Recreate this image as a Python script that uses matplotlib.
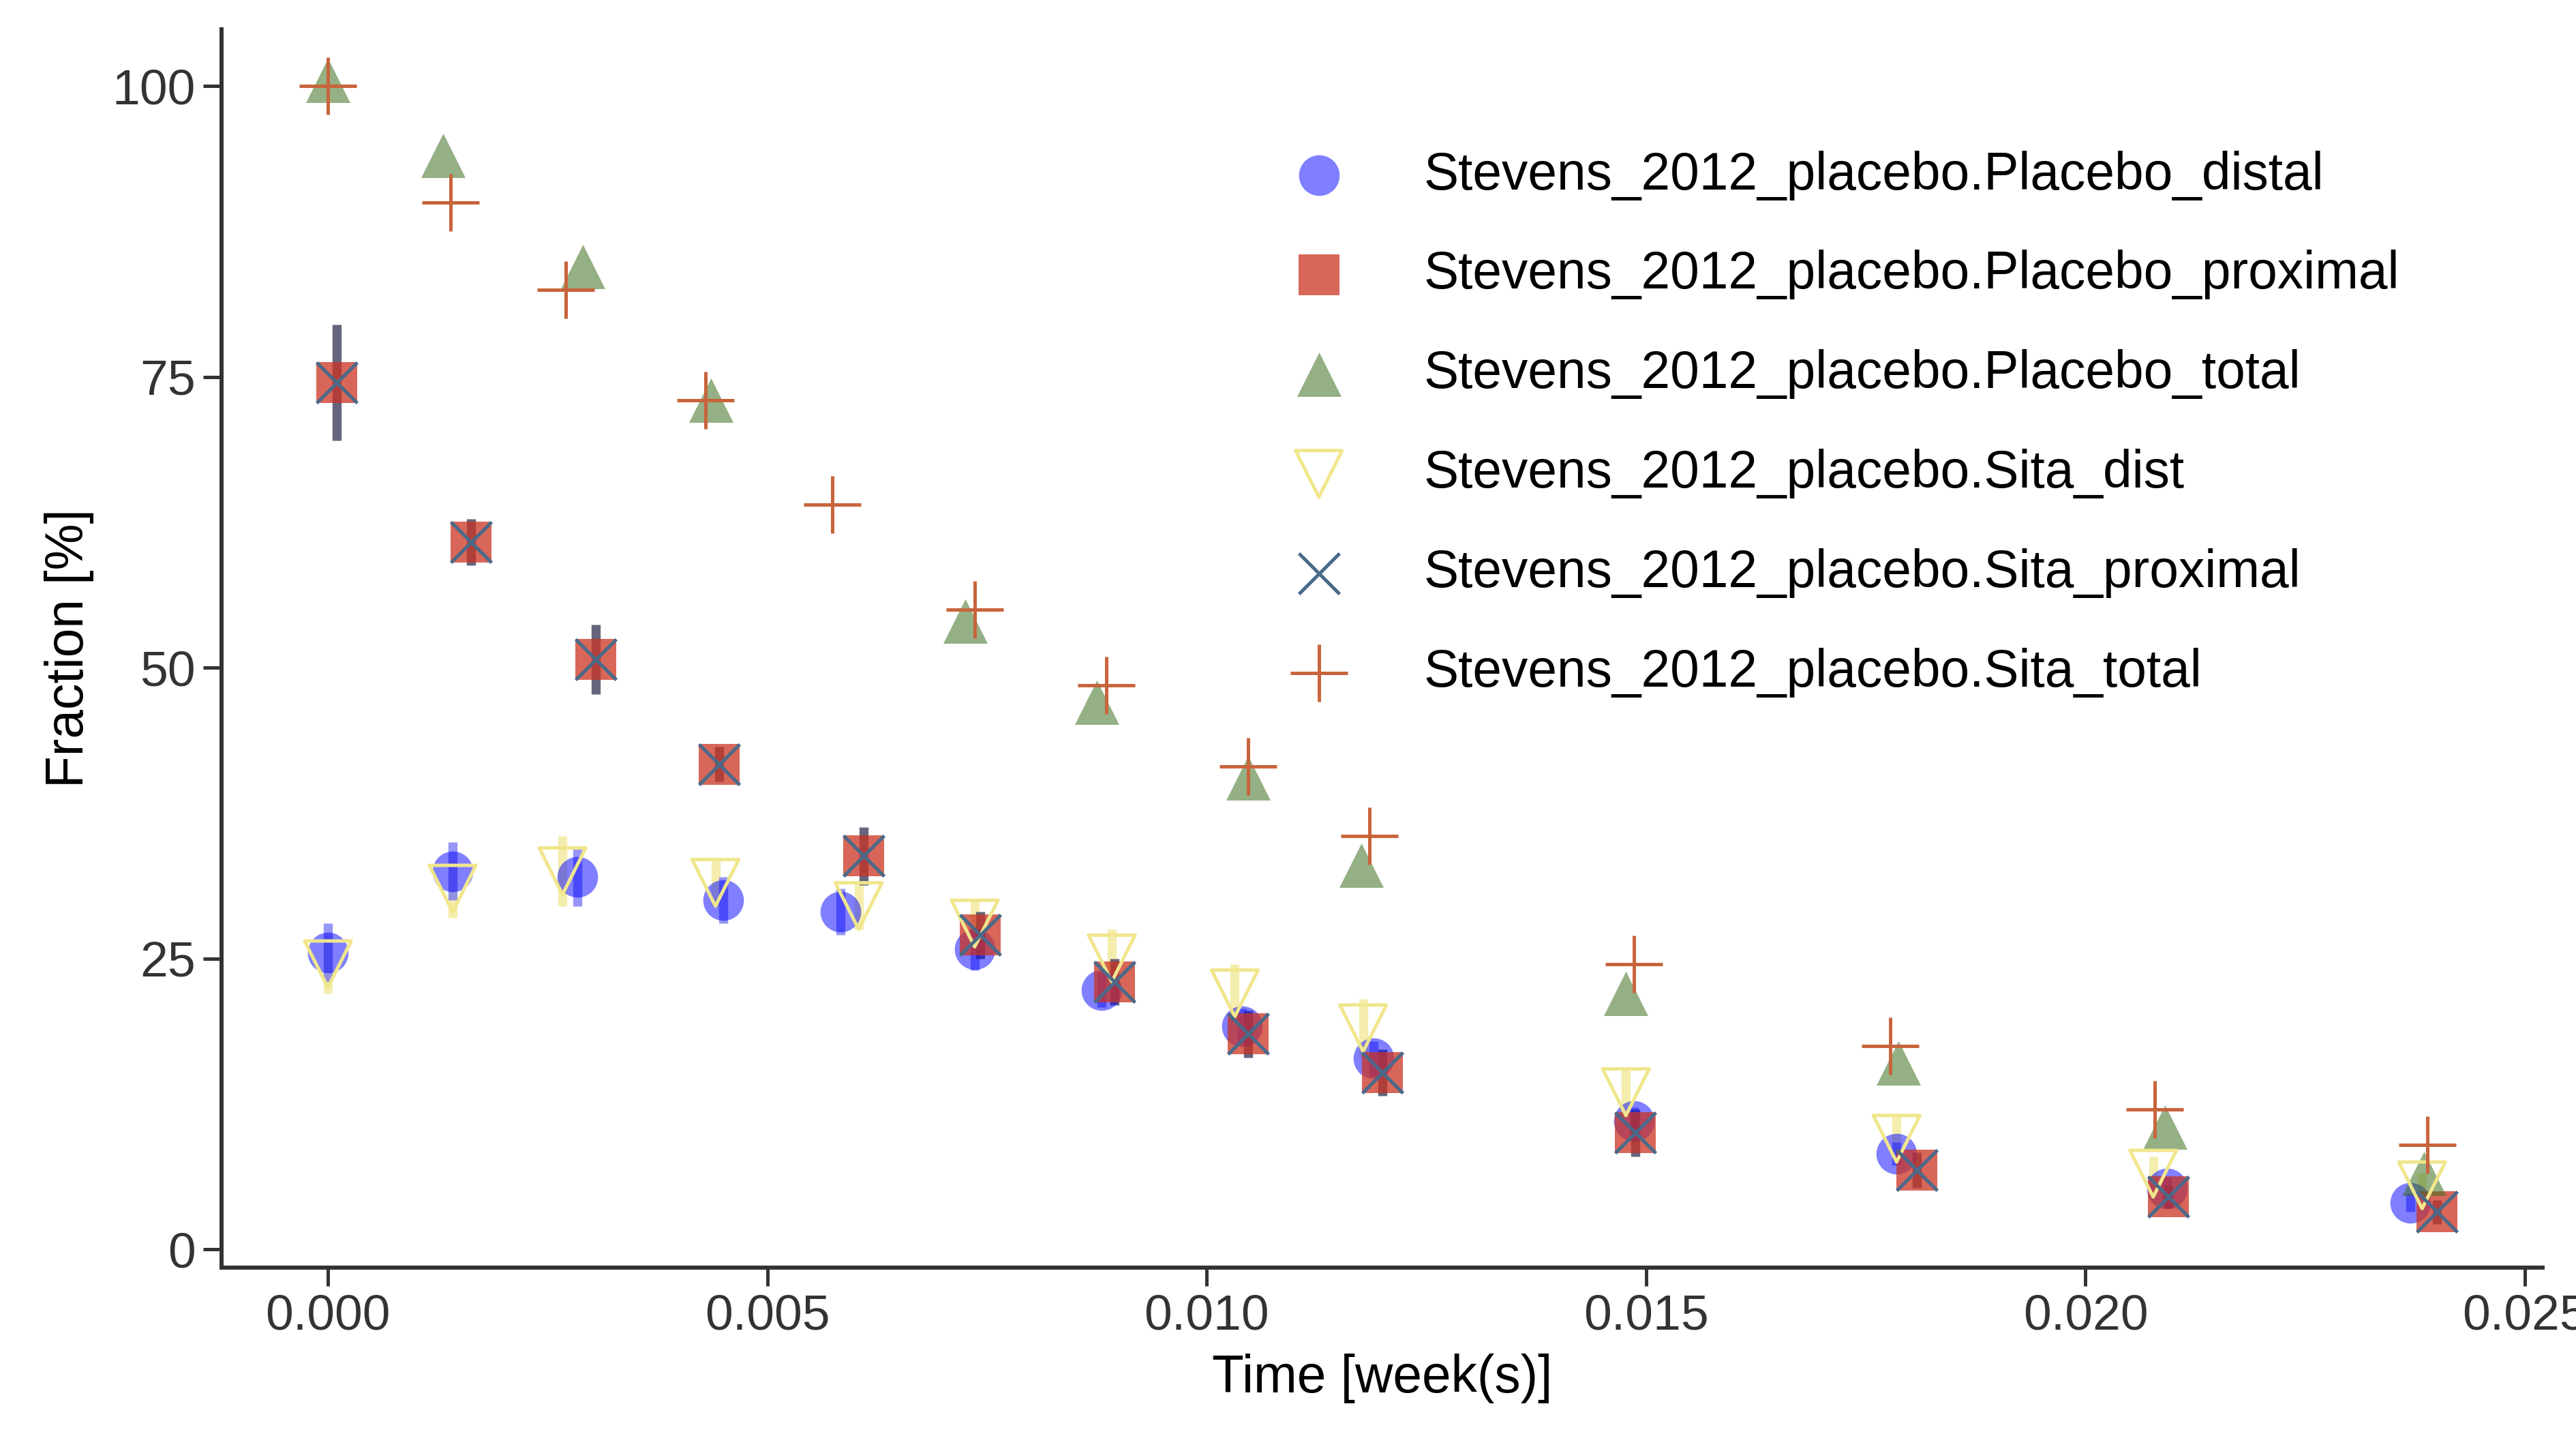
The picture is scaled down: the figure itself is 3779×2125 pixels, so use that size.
import matplotlib.pyplot as plt
import numpy as np

# Stevens_2012_placebo data
t_pd = [0.0, 0.00142, 0.00284, 0.0045, 0.00583, 0.00736, 0.0088, 0.0104, 0.0119, 0.01486, 0.01785, 0.02093, 0.0237]
y_pd = [25.5, 32.5, 32.0, 30.0, 29.0, 25.8, 22.3, 19.2, 16.4, 11.0, 8.2, 5.2, 4.0]
e_pd = [2.5, 2.5, 2.5, 2.0, 2.0, 1.8, 1.5, 1.5, 1.5, 1.2, 1.0, 1.0, 0.8]

t_pp = [0.0001, 0.00163, 0.00305, 0.00445, 0.0061, 0.00742, 0.00895, 0.01047, 0.0120, 0.01488, 0.01808, 0.02094, 0.0240]
y_pp = [74.5, 60.8, 50.7, 41.7, 33.8, 27.0, 23.0, 18.5, 15.2, 10.0, 6.8, 4.5, 3.2]
e_pp = [5.0, 2.0, 3.0, 1.5, 2.5, 2.0, 2.0, 2.0, 2.0, 2.0, 1.5, 1.0, 1.0]

t_pt = [0.0, 0.00131, 0.0029, 0.00436, 0.00725, 0.00875, 0.01047, 0.01176, 0.01477, 0.01787, 0.0209, 0.02385]
y_pt = [100.5, 94.0, 84.5, 73.0, 54.0, 47.0, 40.5, 33.0, 22.0, 16.0, 10.5, 6.5]

t_sd = [0.0, 0.00142, 0.00267, 0.00441, 0.00604, 0.00736, 0.00892, 0.01032, 0.01178, 0.01477, 0.01785, 0.02077, 0.02383]
y_sd = [24.5, 31.0, 32.5, 31.5, 29.5, 28.0, 25.0, 22.0, 19.0, 13.5, 9.5, 6.5, 5.5]
e_sd = [2.5, 2.5, 3.0, 2.0, 2.0, 2.0, 2.5, 2.5, 2.5, 2.0, 2.0, 1.5, 1.0]

t_sp = t_pp
y_sp = y_pp

t_st = [0.0, 0.0014, 0.00271, 0.0043, 0.00574, 0.00736, 0.00886, 0.01047, 0.01185, 0.01486, 0.01778, 0.02079, 0.02389]
y_st = [100.0, 90.0, 82.5, 73.0, 64.0, 55.0, 48.5, 41.5, 35.5, 24.5, 17.5, 12.0, 9.0]

plt.rcParams['font.family'] = ['Arial', 'Liberation Sans', 'DejaVu Sans']
fig = plt.figure(figsize=(3779 / 240, 2125 / 240), dpi=240)
ax = fig.add_axes([0.086, 0.125, 0.901, 0.855])

# error bars
ax.errorbar(t_sd, y_sd, yerr=e_sd, fmt='none', ecolor='#f0e68c', elinewidth=4, alpha=0.7, zorder=1)
ax.errorbar(t_pd, y_pd, yerr=e_pd, fmt='none', ecolor='#6a6af5', elinewidth=4, alpha=0.7, zorder=1)
ax.errorbar(t_sp, y_sp, yerr=e_pp, fmt='none', ecolor='#4a4a66', elinewidth=4, alpha=0.85, zorder=1)

ax.scatter(t_pd, y_pd, s=320, marker='o', color='#0000ff', alpha=0.5, lw=0, zorder=3,
           label='Stevens_2012_placebo.Placebo_distal')
ax.scatter(t_pp, y_pp, s=320, marker='s', color='#cc3322', alpha=0.75, lw=0, zorder=3,
           label='Stevens_2012_placebo.Placebo_proximal')
ax.scatter(t_pt, y_pt, s=380, marker='^', color='#3d7020', alpha=0.55, lw=0, zorder=3,
           label='Stevens_2012_placebo.Placebo_total')
ax.scatter(t_sd, y_sd, s=420, marker='v', facecolor='none', edgecolor='#f0e68c', lw=1.5, zorder=4,
           label='Stevens_2012_placebo.Sita_dist')
ax.scatter(t_sp, y_sp, s=320, marker='x', color='#4a6a8a', lw=1.5, zorder=4,
           label='Stevens_2012_placebo.Sita_proximal')
ax.scatter(t_st, y_st, s=650, marker='+', color='#c8643c', lw=1.5, zorder=4,
           label='Stevens_2012_placebo.Sita_total')

ax.set_xlim(-0.00121, 0.0252)
ax.set_ylim(-1.6, 104.9)
ax.set_xticks([0, 0.005, 0.01, 0.015, 0.02, 0.025])
ax.set_xticklabels(['0.000', '0.005', '0.010', '0.015', '0.020', '0.025'])
ax.set_yticks([0, 25, 50, 75, 100])
ax.tick_params(labelsize=22, colors='#333333', labelcolor='#333333', length=8, width=1.5)
for s in ['top', 'right']:
    ax.spines[s].set_visible(False)
for s in ['left', 'bottom']:
    ax.spines[s].set_linewidth(1.8)
    ax.spines[s].set_color('#333333')
ax.set_xlabel('Time [week(s)]', fontsize=23, labelpad=6)
ax.set_ylabel('Fraction [%]', fontsize=23, labelpad=8)

ax.legend(loc='upper left', bbox_to_anchor=(0.43, 0.94), frameon=False, fontsize=23,
          handletextpad=1.0, labelspacing=0.95, markerscale=1.0)

fig.savefig('out.png', dpi=240)
